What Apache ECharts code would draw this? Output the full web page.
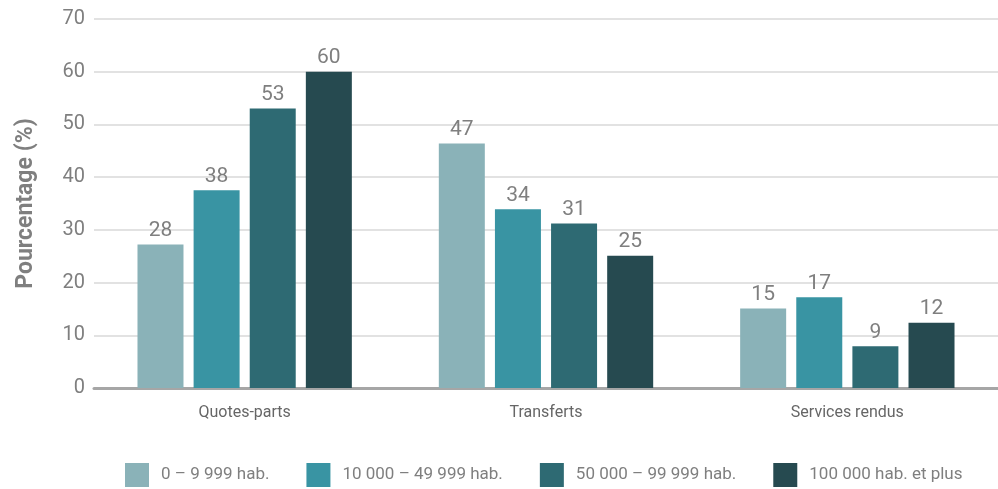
<!DOCTYPE html>
<html><head><meta charset="utf-8">
<script src="https://cdn.jsdelivr.net/npm/echarts@6/dist/echarts.min.js"></script>
<style>html,body{margin:0;padding:0;background:#fff}#c{width:998px;height:489px}</style>
</head><body><div id="c"></div>
<script>
const categories = ['Quotes-parts', 'Transferts', 'Services rendus'];
const seriesNames = ['0 – 9 999 hab.', '10 000 – 49 999 hab.', '50 000 – 99 999 hab.', '100 000 hab. et plus'];
const s1 = [27.2, 46.4, 15.1];
const s2 = [37.5, 33.9, 17.2];
const s3 = [53.0, 31.2, 7.9];
const s4 = [60.0, 25.1, 12.4];
const l1 = ['28', '47', '15'];
const l2 = ['38', '34', '17'];
const l3 = ['53', '31', '9'];
const l4 = ['60', '25', '12'];
const yTicks = [0, 10, 20, 30, 40, 50, 60, 70];
const colors = ['#8AB2B8', '#3994A3', '#2E6A73', '#264A50'];

const values = [s1, s2, s3, s4];
const labels = [l1, l2, l3, l4];
const chart = echarts.init(document.getElementById('c'));
chart.setOption({
  animation: false,
  textStyle: { fontFamily: 'Roboto' },
  grid: { left: 94, right: 0, top: 19, bottom: 101, containLabel: false },
  legend: {
    bottom: 2, left: 125, padding: 0, itemWidth: 24, itemHeight: 24, itemGap: 37,
    icon: 'rect',
    textStyle: { fontSize: 17, color: '#7F7F7F', fontFamily: 'Roboto', padding: [0, 0, 0, 7] },
    data: seriesNames
  },
  xAxis: {
    type: 'category', data: categories,
    axisLine: { lineStyle: { color: '#A6A6A6', width: 3 } },
    axisTick: { show: false },
    axisLabel: { fontSize: 16, color: '#666666', margin: 17 }
  },
  yAxis: {
    type: 'value', min: yTicks[0], max: yTicks[yTicks.length - 1], interval: 10,
    name: 'Pourcentage (%)', nameLocation: 'middle', nameGap: 56,
    nameTextStyle: { fontSize: 23, fontWeight: 'bold', color: '#7F7F7F' },
    axisLine: { show: false }, axisTick: { show: false },
    axisLabel: { fontSize: 20, color: '#7F7F7F', margin: 9 },
    splitLine: { lineStyle: { color: '#D9D9D9', width: 1.5 } }
  },
  series: values.map((v, i) => ({
    type: 'bar', name: seriesNames[i], data: v,
    barWidth: 46, barGap: '22%',
    itemStyle: { color: colors[i] },
    label: {
      show: true, position: 'top', distance: 3, fontSize: 21, color: '#7F7F7F',
      formatter: p => labels[i][p.dataIndex]
    }
  }))
});
</script></body></html>
